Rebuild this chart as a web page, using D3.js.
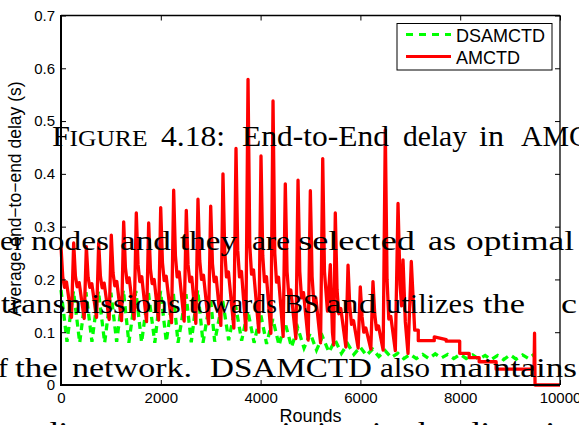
<!DOCTYPE html>
<html><head><meta charset="utf-8">
<script src="https://cdn.jsdelivr.net/npm/d3@7"></script>
<style>html,body{margin:0;padding:0;background:#fff;overflow:hidden}</style>
</head><body>
<svg id="c" width="579" height="425"></svg>
<script>
// ---------- data ----------
const xTicks = [0, 2000, 4000, 6000, 8000, 10000];
const xTickLabels = ["0", "2000", "4000", "6000", "8000", "10000"];
const yTicks = [0, 0.1, 0.2, 0.3, 0.4, 0.5, 0.6, 0.7];
const yTickLabels = ["0", "0.1", "0.2", "0.3", "0.4", "0.5", "0.6", "0.7"];
const seriesNames = ["DSAMCTD", "AMCTD"];
const xLabel = "Rounds";
const yLabel = "Average end\u2212to\u2212end delay (s)";

// DSAMCTD: [round, delay]
const dsamctd = [
 [0,0.180],[120,0.082],[250,0.178],[375,0.080],[500,0.176],[620,0.082],[750,0.178],[875,0.080],
 [1000,0.175],[1115,0.082],[1250,0.180],[1360,0.080],[1500,0.178],[1615,0.081],[1750,0.176],[1880,0.080],
 [1995,0.178],[2110,0.082],[2250,0.175],[2345,0.080],[2505,0.172],[2610,0.081],[2740,0.180],[2846,0.080],
 [2995,0.165],[3080,0.082],[3240,0.160],[3360,0.085],[3500,0.150],[3620,0.084],[3745,0.140],[3870,0.080],
 [4000,0.135],[4120,0.078],[4245,0.125],[4370,0.075],[4490,0.118],[4620,0.072],[4745,0.108],[4870,0.070],
 [4995,0.098],[5120,0.066],[5240,0.092],[5370,0.062],[5495,0.085],[5620,0.060],[5745,0.078],[5870,0.058],
 [5995,0.072],[6120,0.056],[6245,0.068],[6370,0.054],[6495,0.065],[6620,0.052],[6750,0.060],[6870,0.050],
 [7000,0.058],[7120,0.050],[7250,0.058],[7370,0.050],[7500,0.059],[7620,0.051],[7750,0.058],[7870,0.050],
 [8000,0.058],[8120,0.050],[8250,0.057],[8370,0.049],[8500,0.056],[8620,0.048],[8750,0.056],[8870,0.048],
 [9000,0.057],[9120,0.049],[9250,0.057],[9370,0.050],[9480,0.058]
];

// AMCTD: [round, delay]
const amctd = [
 [0,0.262],[35,0.205],[70,0.185],[110,0.195],[210,0.128],
 [254,0.269],[289,0.206],[324,0.186],[364,0.194],[465,0.126],
 [508,0.262],[543,0.204],[578,0.185],[618,0.192],[712,0.128],
 [755,0.269],[790,0.206],[825,0.184],[865,0.193],[965,0.124],
 [1008,0.284],[1043,0.212],[1078,0.188],[1118,0.196],[1213,0.122],
 [1256,0.309],[1291,0.222],[1326,0.194],[1366,0.203],[1466,0.125],
 [1509,0.326],[1544,0.228],[1579,0.196],[1619,0.205],[1714,0.120],
 [1757,0.307],[1792,0.220],[1827,0.192],[1867,0.200],[1955,0.123],
 [1998,0.336],[2033,0.232],[2068,0.198],[2108,0.206],[2215,0.118],
 [2258,0.369],[2293,0.245],[2328,0.205],[2368,0.214],[2468,0.121],
 [2511,0.331],[2546,0.228],[2581,0.196],[2621,0.204],[2702,0.117],
 [2745,0.352],[2780,0.236],[2815,0.200],[2855,0.208],[2957,0.116],
 [3000,0.339],[3035,0.230],[3070,0.196],[3110,0.204],[3203,0.113],
 [3246,0.400],[3281,0.254],[3316,0.205],[3356,0.214],[3464,0.108],
 [3507,0.448],[3542,0.255],[3577,0.205],[3617,0.215],[3705,0.104],
 [3748,0.579],[3783,0.265],[3818,0.210],[3858,0.218],[3965,0.100],
 [4008,0.434],[4043,0.245],[4078,0.196],[4118,0.205],[4206,0.098],
 [4249,0.538],[4284,0.250],[4319,0.195],[4359,0.204],[4452,0.092],
 [4495,0.381],[4530,0.215],[4565,0.170],[4605,0.180],[4707,0.088],
 [4750,0.388],[4785,0.215],[4820,0.165],[4860,0.175],[4954,0.085],
 [4997,0.368],[5032,0.205],[5067,0.155],[5107,0.165],[5202,0.080],
 [5245,0.429],[5280,0.215],[5340,0.140],[5397,0.228],[5440,0.100],[5465,0.076],
 [5497,0.326],[5532,0.180],[5567,0.135],[5607,0.145],[5709,0.072],
 [5752,0.227],[5787,0.150],[5822,0.115],[5862,0.122],[5955,0.070],
 [5998,0.186],[6033,0.130],[6068,0.100],[6108,0.108],[6209,0.068],
 [6252,0.196],[6287,0.135],[6322,0.105],[6362,0.112],[6456,0.066],
 [6499,0.483],[6534,0.200],[6569,0.125],[6609,0.130],[6700,0.065],
 [6754,0.344],[6795,0.190],[6825,0.150],[6854,0.237],[6900,0.120],[6954,0.060],
 [7020,0.234],[7088,0.104],[7160,0.104],[7160,0.084],[7480,0.084],[7480,0.091],[7720,0.086],
 [7720,0.083],[7990,0.083],[7990,0.060],[8180,0.060],[8180,0.052],[8380,0.052],[8380,0.044],
 [8720,0.044],[8720,0.030],[9480,0.030],[9490,0.098],[9500,0.000],[10000,0.000]
];

// Overlaid page text: each word [left x, word, width, size factor]
const pageLines = [
 {y:146, size:30, words:[[52,"F",18,1],[69.5,"IGURE",78,0.74],[161,"4.18:",64,1],[242,"End-to-End",147,1],[403,"delay",64,1],[479,"in",25,1],[521,"AMC",68,1]]},
 {y:250, size:28, words:[[0,"er",24,1],[31,"nodes",78,1],[120,"and",51,1],[180,"they",57,1],[252,"are",38,1],[298,"selected",117,1],[428,"as",28,1],[466,"optimal",108,1]]},
 {y:313, size:28, words:[[1,"transmissions",180,1],[189,"towards",88,1],[284,"BS",35,1],[326,"and",50,1],[386,"utilizes",88,1],[483,"the",42,1],[561,"c",16,1]]},
 {y:377, size:28, words:[[-17,"of",25,1],[15,"the",43,1],[72,"network.",120,1],[210,"DSAMCTD",162,1],[380,"also",50,1],[440,"maintains",137,1]]},
 {y:441, size:28, words:[[-30,"ler",45,1],[40,"distant",98,1],[150,"to",28,1],[190,"transmission",170,1],[372,"in",26,1],[408,"the",44,1],[462,"direction",130,1]]}
];

// ---------- chart ----------
const svg = d3.select("#c");
const W = 579, H = 425;
const m = {left:61, right:560, top:15.5, bottom:385};
const x = d3.scaleLinear().domain([0,10000]).range([m.left, m.right]);
const y = d3.scaleLinear().domain([0,0.7]).range([m.bottom, m.top]);

svg.append("rect").attr("width",W).attr("height",H).attr("fill","#fff");

const line = d3.line().x(d=>x(d[0])).y(d=>y(d[1]));

const plot = svg.append("g");
plot.append("path").datum(dsamctd).attr("d",line)
  .attr("fill","none").attr("stroke","#00ff00").attr("stroke-width",3.3)
  .attr("stroke-dasharray","7,5");
plot.append("path").datum(amctd).attr("d",line)
  .attr("fill","none").attr("stroke","#ff0000").attr("stroke-width",3.3)
  .attr("stroke-linejoin","round");

// axes
const font = "'Liberation Sans', Arial, Helvetica, sans-serif";
const gx = svg.append("g").attr("transform",`translate(0,${m.bottom})`)
  .call(d3.axisBottom(x).tickValues(xTicks).tickFormat((d,i)=>xTickLabels[i]).tickSize(-5).tickPadding(7));
const gy = svg.append("g").attr("transform",`translate(${m.left},0)`)
  .call(d3.axisLeft(y).tickValues(yTicks).tickFormat((d,i)=>yTickLabels[i]).tickSize(-5).tickPadding(6));
const gxt = svg.append("g").attr("transform",`translate(0,${m.top})`)
  .call(d3.axisTop(x).tickValues(xTicks).tickFormat("").tickSize(-5));
const gyr = svg.append("g").attr("transform",`translate(${m.right},0)`)
  .call(d3.axisRight(y).tickValues(yTicks).tickFormat("").tickSize(-5));
[gx,gy,gxt,gyr].forEach(g=>{
  g.select(".domain").remove();
  g.selectAll(".tick line").attr("stroke","#000").attr("stroke-width",1);
  g.selectAll("text").attr("font-family",font).attr("font-size",15).attr("fill","#000");
});
// box
svg.append("line").attr("x1",m.left).attr("x2",m.right).attr("y1",m.top).attr("y2",m.top).attr("stroke","#000").attr("stroke-width",1.3);
svg.append("line").attr("x1",m.right).attr("x2",m.right).attr("y1",m.top).attr("y2",m.bottom).attr("stroke","#000").attr("stroke-width",1.3);
svg.append("line").attr("x1",m.left).attr("x2",m.left).attr("y1",m.top-0.5).attr("y2",m.bottom+1).attr("stroke","#000").attr("stroke-width",2);
svg.append("line").attr("x1",m.left-1).attr("x2",m.right).attr("y1",m.bottom).attr("y2",m.bottom).attr("stroke","#000").attr("stroke-width",2);

// axis labels
svg.append("text").attr("x",(m.left+m.right)/2).attr("y",422).attr("text-anchor","middle")
  .attr("font-family",font).attr("font-size",18).text(xLabel);
svg.append("text").attr("transform","translate(21,199) rotate(-90)").attr("text-anchor","middle")
  .attr("font-family",font).attr("font-size",17.5).text(yLabel);

// legend
const lg = svg.append("g");
lg.append("rect").attr("x",397).attr("y",23.5).attr("width",155).attr("height",46.5)
  .attr("fill","#fff").attr("stroke","#000").attr("stroke-width",1);
const legColors = ["#00ff00","#ff0000"], legDash = ["7,6",null], legY = [34.5,56.5];
seriesNames.forEach((n,i)=>{
  lg.append("line").attr("x1",406).attr("x2",451).attr("y1",legY[i]).attr("y2",legY[i])
    .attr("stroke",legColors[i]).attr("stroke-width",3).attr("stroke-dasharray",legDash[i]);
  lg.append("text").attr("x",456).attr("y",legY[i]+7).attr("font-family",font).attr("font-size",18).text(n);
});

// overlaid page text
const serif = "'Liberation Serif', 'Times New Roman', serif";
pageLines.forEach(L=>{
  L.words.forEach(w=>{
    svg.append("text").attr("x",w[0]).attr("y",L.y)
      .attr("font-family",serif).attr("font-size",L.size*w[3]).attr("fill","#000")
      .attr("textLength",w[2]).attr("lengthAdjust","spacingAndGlyphs").text(w[1]);
  });
});
</script>
</body></html>
